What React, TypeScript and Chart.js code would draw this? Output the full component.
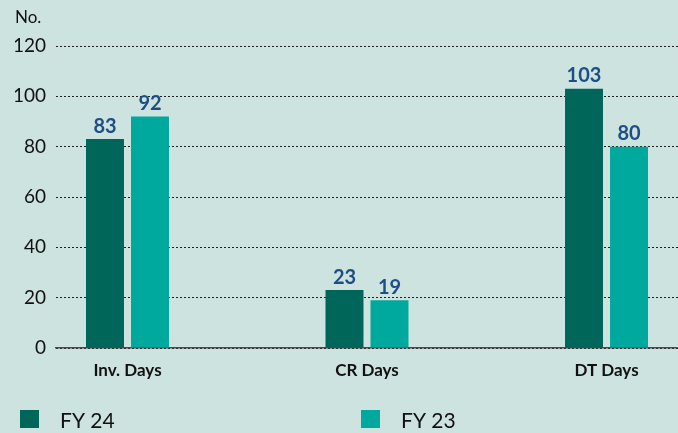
import React, { useEffect, useRef } from 'react';
import { Chart, registerables } from 'chart.js';

Chart.register(...registerables);

const categories = ['Inv. Days', 'CR Days', 'DT Days'];
const seriesNames = ['FY 24', 'FY 23'];
const fy24 = [83, 23, 103];
const fy23 = [92, 19, 80];
const yTicks = [0, 20, 40, 60, 80, 100, 120];
const yUnit = 'No.';

const BG = '#cde3e0';
const COLORS = ['#00665a', '#00a99d'];
const LABEL_COLOR = '#1f4e85';
const TEXT = '#111111';
const FONT = 'Lato, "Open Sans", sans-serif';

const valueLabels = {
  id: 'valueLabels',
  afterDatasetsDraw(chart: any) {
    const ctx = chart.ctx;
    ctx.save();
    ctx.font = `bold 20px ${FONT}`;
    ctx.fillStyle = LABEL_COLOR;
    ctx.textAlign = 'center';
    ctx.textBaseline = 'alphabetic';
    chart.data.datasets.forEach((ds: any, i: number) => {
      const meta = chart.getDatasetMeta(i);
      meta.data.forEach((bar: any, j: number) => {
        const v = ds.data[j].y;
        ctx.fillText(String(v), bar.x, bar.y - 6.5);
      });
    });
    ctx.restore();
  },
};

const customLegend = {
  id: 'customLegend',
  afterDraw(chart: any) {
    const ctx = chart.ctx;
    ctx.save();
    ctx.font = `21px ${FONT}`;
    ctx.textBaseline = 'alphabetic';
    ctx.textAlign = 'left';
    chart.data.datasets.forEach((ds: any, i: number) => {
      const x0 = 20 + i * 341;
      ctx.fillStyle = ds.backgroundColor;
      ctx.fillRect(x0, 410, 19, 18);
      ctx.fillStyle = TEXT;
      ctx.fillText(ds.label, x0 + 40, 428);
    });
    ctx.restore();
  },
};

export default function App() {
  const canvasRef = useRef<HTMLCanvasElement | null>(null);

  useEffect(() => {
    if (!canvasRef.current) return;
    const chart = new Chart(canvasRef.current, {
      type: 'bar',
      data: {
        datasets: [fy24, fy23].map((vals, s) => ({
          label: seriesNames[s],
          data: vals.map((v, i) => ({ x: i, y: v })),
          backgroundColor: COLORS[s],
          borderWidth: 0,
          categoryPercentage: 0.3758,
          barPercentage: 0.844,
        })),
      },
      options: {
        animation: false,
        responsive: true,
        maintainAspectRatio: false,
        layout: { padding: { left: 15, right: 0, top: 0, bottom: 40 } },
        plugins: {
          legend: { display: false },
          tooltip: { enabled: false },
          title: {
            display: true,
            text: yUnit,
            align: 'start',
            color: TEXT,
            font: { family: FONT, size: 17, weight: 'normal' },
            padding: { top: 7, bottom: 18.6 },
          },
        },
        scales: {
          x: {
            type: 'linear',
            min: -0.2985,
            max: 2.2985,
            offset: false,
            afterBuildTicks: (scale: any) => {
              scale.ticks = categories.map((_, i) => ({ value: i }));
            },
            afterFit: (scale: any) => {
              scale.height = 45;
            },
            grid: { display: true, drawOnChartArea: false, drawTicks: false, offset: false },
            border: { display: true, color: '#4a4a4a', width: 1.5 },
            ticks: {
              padding: 12,
              color: TEXT,
              font: { family: FONT, size: 17, weight: 'bold' },
              autoSkip: false,
              maxRotation: 0,
              callback: (v: any) => categories[v] ?? '',
            },
          },
          y: {
            min: 0,
            max: 120,
            afterBuildTicks: (scale: any) => {
              scale.ticks = yTicks.map((v) => ({ value: v }));
            },
            afterFit: (scale: any) => {
              scale.width = 41;
            },
            grid: { color: '#1e1e1e', lineWidth: 1, drawTicks: false },
            border: { display: false, dash: [2, 2] },
            ticks: {
              padding: 10,
              color: TEXT,
              font: { family: FONT, size: 19 },
            },
          },
        },
      },
      plugins: [valueLabels, customLegend],
    } as any);
    return () => chart.destroy();
  }, []);

  return (
    <>
      <style>{`html,body{margin:0;padding:0;background:${BG};}`}</style>
      <div style={{ position: 'relative', width: 678, height: 433, background: BG }}>
        <canvas ref={canvasRef} />
      </div>
    </>
  );
}
